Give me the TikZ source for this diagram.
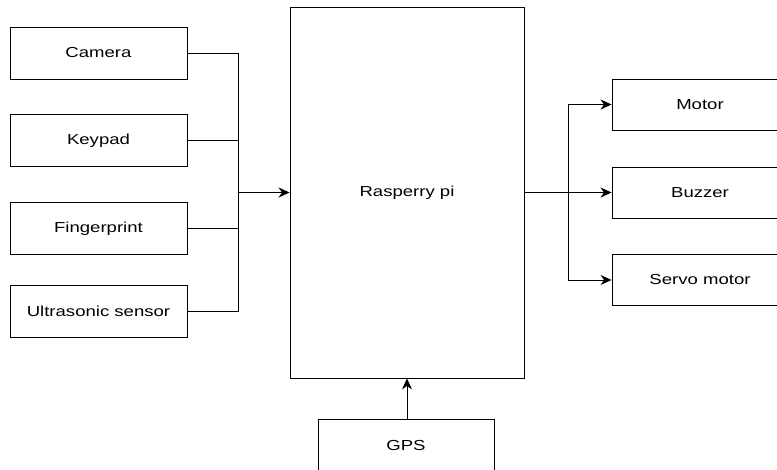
\documentclass[tikz,border=0pt]{standalone}
\usepackage{fontspec}
\setmainfont{Liberation Sans}[FakeStretch=1.28]
\usetikzlibrary{arrows.meta}
\begin{document}
\begin{tikzpicture}[x=1pt,y=-1pt,
  box/.style={draw, line width=0.9pt, rectangle, inner sep=0pt, font=\fontsize{14.5}{17}\selectfont},
  conn/.style={line width=0.9pt},
  arr/.style={conn, -{Stealth[length=11pt,width=10pt,inset=3.5pt]}}]
\useasboundingbox (0,0) rectangle (777,470);
\node[box, minimum width=177pt, minimum height=52pt] (cam) at (98.5,53) {Camera};
\node[box, minimum width=177pt, minimum height=52pt] (key) at (98.5,140.5) {Keypad};
\node[box, minimum width=177pt, minimum height=52pt] (fin) at (98.5,228.5) {Fingerprint};
\node[box, minimum width=177pt, minimum height=52pt] (ult) at (98.5,311) {Ultrasonic sensor};
\node[box, minimum width=234pt, minimum height=371pt] (pi) at (407,192.5) {Rasperry pi};
\node[box, minimum width=176pt, minimum height=54pt] (gps) at (406,446) {GPS};
\node[box, minimum width=176pt, minimum height=51pt] (mot) at (700,104.5) {Motor};
\node[box, minimum width=176pt, minimum height=51pt] (buz) at (700,192.5) {Buzzer};
\node[box, minimum width=176pt, minimum height=51pt] (ser) at (700,280) {Servo motor};
\coordinate (j) at (238,192.5);
\coordinate (k) at (568,192.5);
\draw[conn] (cam.east) -| (j);
\draw[conn] (key.east) -| (j);
\draw[conn] (fin.east) -| (j);
\draw[conn] (ult.east) -| (j);
\draw[arr] (j) -- (pi.west);
\draw[arr] (pi.east) -- (buz.west);
\draw[arr] (k) |- (mot.west);
\draw[arr] (k) |- (ser.west);
\draw[arr] ([xshift=1pt]gps.north) -- ([xshift=1pt]gps.north |- pi.south);
\end{tikzpicture}
\end{document}
